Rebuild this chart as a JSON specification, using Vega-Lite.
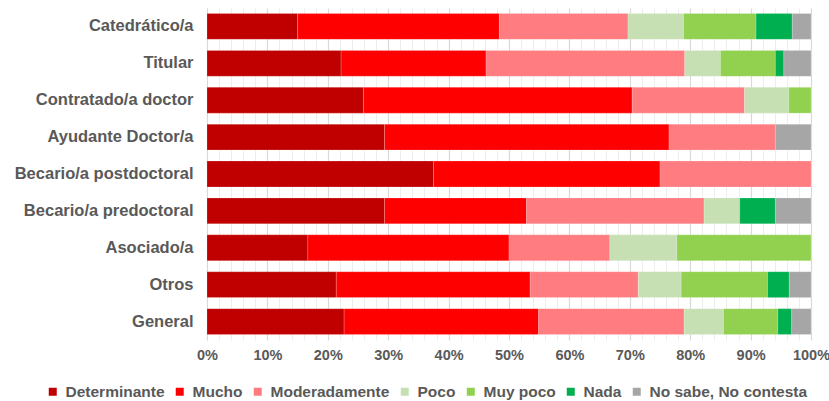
{
  "$schema": "https://vega.github.io/schema/vega-lite/v6.json",
  "width": 604,
  "height": 332,
  "autosize": {"type": "none"},
  "padding": {"left": 207, "top": 8, "right": 18, "bottom": 61},
  "background": "white",
  "config": {
    "font": "Liberation Sans",
    "view": {"stroke": null}
  },
  "data": {
    "values": [
      {"cat": "Catedrático/a\u00a0", "resp": "Determinante", "o": 1, "v": 15.0},
      {"cat": "Catedrático/a\u00a0", "resp": "Mucho", "o": 2, "v": 33.4},
      {"cat": "Catedrático/a\u00a0", "resp": "Moderadamente", "o": 3, "v": 21.3},
      {"cat": "Catedrático/a\u00a0", "resp": "Poco", "o": 4, "v": 9.2},
      {"cat": "Catedrático/a\u00a0", "resp": "Muy poco", "o": 5, "v": 12.0},
      {"cat": "Catedrático/a\u00a0", "resp": "Nada", "o": 6, "v": 6.0},
      {"cat": "Catedrático/a\u00a0", "resp": "No sabe, No contesta", "o": 7, "v": 3.1},
      {"cat": "Titular", "resp": "Determinante", "o": 1, "v": 22.2},
      {"cat": "Titular", "resp": "Mucho", "o": 2, "v": 24.0},
      {"cat": "Titular", "resp": "Moderadamente", "o": 3, "v": 32.9},
      {"cat": "Titular", "resp": "Poco", "o": 4, "v": 5.9},
      {"cat": "Titular", "resp": "Muy poco", "o": 5, "v": 9.1},
      {"cat": "Titular", "resp": "Nada", "o": 6, "v": 1.4},
      {"cat": "Titular", "resp": "No sabe, No contesta", "o": 7, "v": 4.5},
      {"cat": "Contratado/a doctor", "resp": "Determinante", "o": 1, "v": 25.9},
      {"cat": "Contratado/a doctor", "resp": "Mucho", "o": 2, "v": 44.5},
      {"cat": "Contratado/a doctor", "resp": "Moderadamente", "o": 3, "v": 18.6},
      {"cat": "Contratado/a doctor", "resp": "Poco", "o": 4, "v": 7.3},
      {"cat": "Contratado/a doctor", "resp": "Muy poco", "o": 5, "v": 3.7},
      {"cat": "Ayudante Doctor/a", "resp": "Determinante", "o": 1, "v": 29.4},
      {"cat": "Ayudante Doctor/a", "resp": "Mucho", "o": 2, "v": 47.1},
      {"cat": "Ayudante Doctor/a", "resp": "Moderadamente", "o": 3, "v": 17.6},
      {"cat": "Ayudante Doctor/a", "resp": "No sabe, No contesta", "o": 7, "v": 5.9},
      {"cat": "Becario/a postdoctoral", "resp": "Determinante", "o": 1, "v": 37.5},
      {"cat": "Becario/a postdoctoral", "resp": "Mucho", "o": 2, "v": 37.5},
      {"cat": "Becario/a postdoctoral", "resp": "Moderadamente", "o": 3, "v": 25.0},
      {"cat": "Becario/a predoctoral", "resp": "Determinante", "o": 1, "v": 29.4},
      {"cat": "Becario/a predoctoral", "resp": "Mucho", "o": 2, "v": 23.5},
      {"cat": "Becario/a predoctoral", "resp": "Moderadamente", "o": 3, "v": 29.4},
      {"cat": "Becario/a predoctoral", "resp": "Poco", "o": 4, "v": 5.9},
      {"cat": "Becario/a predoctoral", "resp": "Nada", "o": 6, "v": 5.9},
      {"cat": "Becario/a predoctoral", "resp": "No sabe, No contesta", "o": 7, "v": 5.9},
      {"cat": "Asociado/a", "resp": "Determinante", "o": 1, "v": 16.7},
      {"cat": "Asociado/a", "resp": "Mucho", "o": 2, "v": 33.3},
      {"cat": "Asociado/a", "resp": "Moderadamente", "o": 3, "v": 16.7},
      {"cat": "Asociado/a", "resp": "Poco", "o": 4, "v": 11.1},
      {"cat": "Asociado/a", "resp": "Muy poco", "o": 5, "v": 22.2},
      {"cat": "Otros", "resp": "Determinante", "o": 1, "v": 21.4},
      {"cat": "Otros", "resp": "Mucho", "o": 2, "v": 32.1},
      {"cat": "Otros", "resp": "Moderadamente", "o": 3, "v": 17.9},
      {"cat": "Otros", "resp": "Poco", "o": 4, "v": 7.1},
      {"cat": "Otros", "resp": "Muy poco", "o": 5, "v": 14.3},
      {"cat": "Otros", "resp": "Nada", "o": 6, "v": 3.6},
      {"cat": "Otros", "resp": "No sabe, No contesta", "o": 7, "v": 3.6},
      {"cat": "General", "resp": "Determinante", "o": 1, "v": 22.7},
      {"cat": "General", "resp": "Mucho", "o": 2, "v": 32.2},
      {"cat": "General", "resp": "Moderadamente", "o": 3, "v": 24.1},
      {"cat": "General", "resp": "Poco", "o": 4, "v": 6.5},
      {"cat": "General", "resp": "Muy poco", "o": 5, "v": 9.0},
      {"cat": "General", "resp": "Nada", "o": 6, "v": 2.3},
      {"cat": "General", "resp": "No sabe, No contesta", "o": 7, "v": 3.2}
    ]
  },
  "layer": [
    {
      "mark": {"type": "tick", "opacity": 0},
      "encoding": {
        "x": {
          "field": "v", "type": "quantitative",
          "scale": {"domain": [0, 100], "nice": false},
          "axis": {
            "orient": "top", "values": [2,4,6,8,12,14,16,18,22,24,26,28,32,34,36,38,42,44,46,48,52,54,56,58,62,64,66,68,72,74,76,78,82,84,86,88,92,94,96,98],
            "labels": false, "ticks": false, "domain": false, "title": null,
            "grid": true, "gridColor": "#EDEDED", "gridWidth": 1
          }
        }
      }
    },
    {
      "mark": {"type": "bar", "stroke": "white", "strokeWidth": 0.3, "strokeOpacity": 0.6},
      "encoding": {
        "y": {
          "field": "cat", "type": "nominal", "sort": null,
          "scale": {"paddingInner": 0.3, "paddingOuter": 0.15},
          "axis": {
            "title": null, "ticks": false, "domain": true, "domainColor": "#D9D9D9",
            "labelFont": "Liberation Sans", "labelFontWeight": "bold", "labelFontSize": 16.5,
            "labelColor": "#595959", "labelPadding": 14
          }
        },
        "x": {
          "field": "v", "type": "quantitative", "stack": "zero",
          "scale": {"domain": [0, 100], "nice": false},
          "axis": {
            "orient": "bottom", "values": [0,10,20,30,40,50,60,70,80,90,100],
            "labelExpr": "datum.value + '%'", "title": null, "ticks": false, "domain": false,
            "grid": true, "gridColor": "#D9D9D9", "gridWidth": 1.2, "labelFlush": false,
            "labelFont": "Liberation Sans", "labelFontWeight": "bold", "labelFontSize": 14.5,
            "labelColor": "#595959", "labelPadding": 8, "labelOverlap": false
          }
        },
        "color": {
          "field": "resp", "type": "nominal",
          "scale": {
            "domain": ["Determinante", "Mucho", "Moderadamente", "Poco", "Muy poco", "Nada", "No sabe, No contesta"],
            "range": ["#C00000", "#FF0000", "#FF7C80", "#C6E0B4", "#92D050", "#00B050", "#A6A6A6"]
          },
          "legend": {
            "title": null, "orient": "none", "direction": "horizontal",
            "legendX": -162, "legendY": 376, "gridAlign": "none",
            "symbolType": "square", "symbolSize": 64, "symbolStrokeWidth": 0,
            "labelFont": "Liberation Sans", "labelFontWeight": "bold", "labelFontSize": 15.5,
            "labelColor": "#595959", "columnPadding": 7, "labelOffset": 5, "symbolOffset": 0,
            "labelLimit": 300
          }
        },
        "order": {"field": "o", "type": "quantitative"}
      }
    }
  ]
}
